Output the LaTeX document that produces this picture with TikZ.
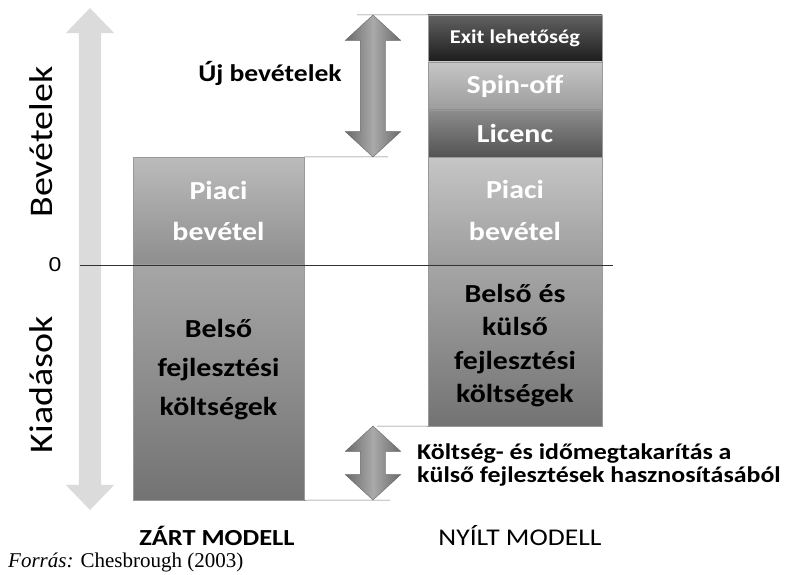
\documentclass[tikz,border=0pt]{standalone}
\usepackage{fontspec}
\setmainfont{Carlito}[FakeStretch=1.15, Numbers=Lining]
\newfontfamily\forrasfont{Liberation Serif}
\newfontfamily\nullafont{Liberation Sans}[FakeStretch=1.15]
\usetikzlibrary{shapes.arrows,positioning}
\definecolor{exitc}{gray}{0.12}
\definecolor{spinc}{gray}{0.68}
\definecolor{licc}{gray}{0.36}
\definecolor{piacic}{gray}{0.62}
\definecolor{npiacic}{gray}{0.68}
\definecolor{belsoc}{gray}{0.50}
\definecolor{tengelyc}{gray}{0.86}
\definecolor{nyilc}{gray}{0.52}

\begin{document}
\begin{tikzpicture}[x=1pt, y=-1pt,
  bar/.style={rectangle, draw=black!40, line width=0.5pt, inner sep=0pt, align=center,
    top color=#1!70!white, middle color=#1, bottom color=#1!90!black},
  dbl/.style={double arrow, shape border rotate=90, inner sep=12.5pt, draw=black!60, line width=0.4pt,
    left color=nyilc!80!black, right color=nyilc!80!black, middle color=nyilc!70!white,
    minimum width=55pt, double arrow head extend=15pt, double arrow tip angle=95},
  refline/.style={draw=black!55, line width=0.5pt},
  lbl/.style={inner sep=0pt}]
\useasboundingbox (0,0) rectangle (792,575);

% tengely
\node[double arrow, shape border rotate=90, inner sep=11pt, fill=tengelyc, minimum width=48pt,
  double arrow head extend=13pt, double arrow tip angle=88, minimum height=502pt] (tengely) at (90,259) {};
\node[lbl, rotate=90, font=\fontsize{33}{33}\selectfont] (bev) at (41,142) {Bevételek};
\node[lbl, rotate=90, font=\fontsize{33}{33}\selectfont] (kiad) at (41,385) {Kiadások};
\node[lbl, font=\nullafont\fontsize{20}{20}\selectfont] (nulla) at (55,265) {0};

% zart modell
\node[bar=piacic, minimum width=171pt, minimum height=107pt, text=white,
  font=\bfseries\fontsize{26}{41}\selectfont] (zpiaci) at (218.5,210.5) {Piaci\\bevétel};
\node[bar=belsoc, minimum width=171pt, minimum height=235pt] (zbelso) at (218.5,382.5) {};
\node[lbl, align=center, font=\bfseries\fontsize{26}{39}\selectfont] (zbelsotxt)
  at ([yshift=13pt]zbelso.center) {Belső\\fejlesztési\\költségek};

% nyilt modell
\node[bar=exitc, minimum width=174pt, minimum height=47pt, text=white,
  font=\bfseries\fontsize{19.5}{19.5}\selectfont] (exit) at (515,38.5) {Exit lehetőség};
\node[bar=spinc, minimum width=174pt, minimum height=48pt, text=white,
  font=\bfseries\fontsize{26}{26}\selectfont] (spin) at (515,86) {Spin-off};
\node[bar=licc, minimum width=174pt, minimum height=47pt, text=white,
  font=\bfseries\fontsize{26}{26}\selectfont] (lic) at (515,133.5) {Licenc};
\node[bar=npiacic, minimum width=174pt, minimum height=107pt, text=white,
  font=\bfseries\fontsize{26}{42}\selectfont] (npiaci) at (515,210.5) {Piaci\\bevétel};
\node[bar=belsoc, minimum width=174pt, minimum height=161pt,
  font=\bfseries\fontsize{26}{33.5}\selectfont] (nbelso) at (515,345.5) {Belső és\\külső\\fejlesztési\\költségek};

% segedvonalak
\coordinate (t1) at (357,15);
\coordinate (t2) at (388,157);
\coordinate (t3) at (377,426);
\coordinate (t4) at (390,500);
\draw[refline] (t1) -- (exit.north west);
\draw[refline] (zpiaci.north east) -- (t2);
\draw[refline] (t3) -- (nbelso.south west);
\draw[refline] (zbelso.south east) -- (t4);

% nyilak
\node[dbl, minimum height=142pt] (ujnyil) at (373,86) {};
\node[dbl, minimum height=74pt] (megtaknyil) at (373,463) {};

\node[lbl, font=\bfseries\fontsize{24}{24}\selectfont] (uj) at (270,73) {Új bevételek};
\node[lbl, anchor=west, align=left, font=\bfseries\fontsize{22.5}{23.5}\selectfont] (megtak) at (417,465)
  {Költség- és időmegtakarítás a\\külső fejlesztések hasznosításából};

\node[lbl, font=\bfseries\fontsize{23}{23}\selectfont] (zart) at (217,536) {ZÁRT MODELL};
\node[lbl, font=\fontsize{24}{24}\selectfont] (nyilt) at (520,536) {NYÍLT MODELL};
\node[lbl, anchor=west, font=\forrasfont\fontsize{21}{21}\selectfont] (forras) at (8,562) {\textit{Forrás:} Chesbrough (2003)};

\draw[black!80, line width=0.7pt] (80,265) -- (613,265);
\end{tikzpicture}
\end{document}
